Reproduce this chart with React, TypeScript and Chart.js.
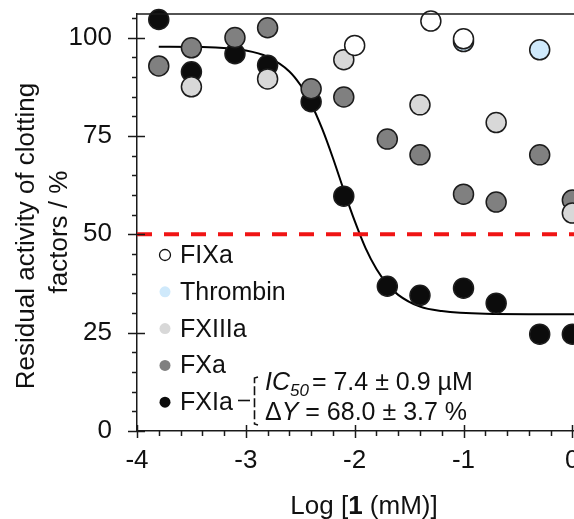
import React, { useEffect, useRef } from 'react';
import { Chart, registerables } from 'chart.js';

Chart.register(...registerables);

// ---- data ----
const X_TICKS = [-4, -3, -2, -1, 0];
const Y_TICKS = [0, 25, 50, 75, 100];

const FIXA_X = [-2.0, -1.3, -1.0];
const FIXA_Y = [98.0, 104.2, 99.7];

const THROMBIN_X = [-1.0, -0.3];
const THROMBIN_Y = [99.0, 96.9];

const FXIIIA_X = [-3.5, -2.8, -2.1, -1.4, -0.7, 0];
const FXIIIA_Y = [87.5, 89.5, 94.4, 82.9, 78.4, 55.4];

const FXA_X = [-3.8, -3.5, -3.1, -2.8, -2.4, -2.1, -1.7, -1.4, -1.0, -0.7, -0.3, 0];
const FXA_Y = [92.8, 97.4, 100.0, 102.5, 87.0, 84.9, 74.2, 70.2, 60.2, 58.2, 70.2, 58.7];

const FXIA_X = [-3.8, -3.5, -3.1, -2.8, -2.4, -2.1, -1.7, -1.4, -1.0, -0.7, -0.3, 0];
const FXIA_Y = [104.6, 91.3, 95.9, 93.0, 83.7, 59.7, 36.8, 34.5, 36.3, 32.5, 24.6, 24.6];

// fitted FXIa curve
const CURVE_X = [-3.8, -3.4, -3.0, -2.8, -2.6, -2.5, -2.4, -2.3, -2.2, -2.1, -2.0, -1.9, -1.8, -1.7, -1.6, -1.4, -1.2, -0.8, -0.4, 0, 0.3];
const CURVE_Y = [97.7, 97.6, 96.7, 95.1, 91.4, 88.0, 83.2, 76.9, 69.4, 61.2, 53.4, 46.5, 41.2, 37.3, 34.6, 31.6, 30.5, 29.8, 29.7, 29.7, 29.7];

const THRESHOLD_X = [-4, 0.3];
const THRESHOLD_Y = [50, 50];

const SERIES_LABELS = ['FIXa', 'Thrombin', 'FXIIIa', 'FXa', 'FXIa'];
const Y_TITLE = ['Residual activity of clotting', 'factors / %'];
const IC50_TEXT = '= 7.4 ± 0.9 µM';
const DY_TEXT = ' = 68.0 ± 3.7 %';

const FONT = '"Liberation Sans", Arial, sans-serif';

const zip = (xs: number[], ys: number[]) => xs.map((x, i) => ({ x, y: ys[i] }));

const pointDs = (label: string, xs: number[], ys: number[], fill: string) => ({
  type: 'scatter' as const,
  label,
  data: zip(xs, ys),
  pointRadius: 10,
  pointHoverRadius: 10,
  pointBackgroundColor: fill,
  pointBorderColor: '#1c1c1c',
  pointBorderWidth: 1.5,
  backgroundColor: fill,
  borderColor: '#1c1c1c',
  showLine: false,
  clip: false as any,
  order: 0,
});

const decorPlugin = {
  id: 'decor',
  afterDraw(chart: any) {
    const ctx: CanvasRenderingContext2D = chart.ctx;
    const xs = chart.scales.x;
    const ys = chart.scales.y;
    const a = chart.chartArea;
    ctx.save();
    ctx.strokeStyle = '#1a1a1a';
    ctx.lineWidth = 1.5;
    // top frame line
    ctx.beginPath();
    ctx.moveTo(a.left, a.top);
    ctx.lineTo(a.right, a.top);
    ctx.stroke();
    // y ticks
    for (let v = 0; v <= ys.max + 0.001; v += 5) {
      const py = Math.round(ys.getPixelForValue(v)) + 0.5;
      const major = Y_TICKS.includes(v);
      ctx.beginPath();
      ctx.moveTo(a.left - (major ? 9 : 5), py);
      ctx.lineTo(a.left + (major ? 8 : 0), py);
      ctx.stroke();
    }
    // x ticks
    for (let i = 0; i <= 21; i++) {
      const v = -4 + i * 0.2;
      if (v > xs.max) break;
      const px = Math.round(xs.getPixelForValue(v)) + 0.5;
      const major = i % 5 === 0;
      ctx.beginPath();
      ctx.moveTo(px, a.bottom - (major ? 6 : 0));
      ctx.lineTo(px, a.bottom + (major ? 7 : 5));
      ctx.stroke();
    }

    ctx.fillStyle = '#111';
    // y title
    ctx.font = `26px ${FONT}`;
    ctx.textAlign = 'center';
    ctx.textBaseline = 'middle';
    const yCenters = [236, 232];
    const xCenters = [27, 60];
    Y_TITLE.forEach((t, i) => {
      ctx.save();
      ctx.translate(xCenters[i], yCenters[i]);
      ctx.rotate(-Math.PI / 2);
      ctx.fillText(t, 0, 0);
      ctx.restore();
    });

    // x title with bold "1"
    ctx.textAlign = 'left';
    ctx.textBaseline = 'alphabetic';
    const parts: [string, string][] = [
      ['Log [', `26px ${FONT}`],
      ['1', `bold 26px ${FONT}`],
      [' (mM)]', `26px ${FONT}`],
    ];
    let total = 0;
    parts.forEach(([t, f]) => { ctx.font = f; total += ctx.measureText(t).width; });
    let cx = 364 - total / 2;
    parts.forEach(([t, f]) => { ctx.font = f; ctx.fillText(t, cx, 514); cx += ctx.measureText(t).width; });

    // legend
    const dsets = chart.data.datasets;
    ctx.font = `25px ${FONT}`;
    SERIES_LABELS.forEach((lab, i) => {
      const base = 263 + i * 36.8;
      const ds = dsets.find((d: any) => d.label === lab);
      ctx.beginPath();
      ctx.arc(165, base - 8, 5.5, 0, Math.PI * 2);
      ctx.fillStyle = ds.pointBackgroundColor;
      ctx.fill();
      if (lab === 'FIXa') {
        ctx.lineWidth = 1.3;
        ctx.strokeStyle = '#111';
        ctx.stroke();
      }
      ctx.fillStyle = '#111';
      ctx.fillText(lab, 180, base);
    });

    // annotation: dash + bracket
    ctx.strokeStyle = '#111';
    ctx.lineWidth = 1.6;
    ctx.beginPath();
    ctx.moveTo(238, 400.5);
    ctx.lineTo(250, 400.5);
    ctx.stroke();
    ctx.setLineDash([9, 3]);
    ctx.beginPath();
    ctx.moveTo(258, 377);
    ctx.lineTo(254.5, 378);
    ctx.lineTo(254.5, 424);
    ctx.lineTo(258, 425);
    ctx.stroke();
    ctx.setLineDash([]);

    // IC50 line
    let tx = 265;
    ctx.font = `italic 25px ${FONT}`;
    ctx.fillText('IC', tx, 390);
    tx += ctx.measureText('IC').width;
    ctx.font = `italic 17px ${FONT}`;
    ctx.fillText('50', tx, 396);
    tx += ctx.measureText('50').width + 3;
    ctx.font = `25px ${FONT}`;
    ctx.fillText(IC50_TEXT, tx, 390);

    // delta Y line
    tx = 265;
    ctx.font = `25px ${FONT}`;
    ctx.fillText('Δ', tx, 420);
    tx += ctx.measureText('Δ').width;
    ctx.font = `italic 25px ${FONT}`;
    ctx.fillText('Y', tx, 420);
    tx += ctx.measureText('Y').width;
    ctx.font = `25px ${FONT}`;
    ctx.fillText(DY_TEXT, tx, 420);

    ctx.restore();
  },
};

export default function App() {
  const ref = useRef<HTMLCanvasElement | null>(null);

  useEffect(() => {
    if (!ref.current) return;
    const tickFont = { family: FONT, size: 26 };
    const chart = new Chart(ref.current, {
      type: 'scatter',
      data: {
        datasets: [
          pointDs('FIXa', FIXA_X, FIXA_Y, '#ffffff'),
          pointDs('Thrombin', THROMBIN_X, THROMBIN_Y, '#cfe9fb'),
          pointDs('FXIIIa', FXIIIA_X, FXIIIA_Y, '#d8d8d8'),
          pointDs('FXa', FXA_X, FXA_Y, '#808080'),
          pointDs('FXIa', FXIA_X, FXIA_Y, '#0c0c0c'),
          {
            type: 'scatter',
            label: 'threshold',
            data: zip(THRESHOLD_X, THRESHOLD_Y),
            showLine: true,
            borderColor: '#f01414',
            borderWidth: 4,
            borderDash: [15, 12],
            pointRadius: 0,
            order: 1,
          } as any,
          {
            type: 'scatter',
            label: 'fit',
            data: zip(CURVE_X, CURVE_Y),
            showLine: true,
            borderColor: '#000',
            borderWidth: 2,
            pointRadius: 0,
            cubicInterpolationMode: 'monotone',
            order: 2,
          } as any,
        ],
      },
      options: {
        responsive: false,
        animation: false,
        layout: { padding: { top: 14, right: 15, left: 0, bottom: 0 } },
        plugins: { legend: { display: false }, tooltip: { enabled: false } },
        scales: {
          x: {
            type: 'linear',
            min: -4,
            max: 0.3,
            afterBuildTicks: (s: any) => { s.ticks = X_TICKS.map((v) => ({ value: v })); },
            afterFit: (s: any) => { s.height = 88; s.paddingLeft = 0; s.paddingRight = 0; },
            grid: { display: false, drawTicks: false },
            border: { display: true, color: '#1a1a1a', width: 1.5 },
            ticks: { font: tickFont, color: '#111', padding: 14, maxRotation: 0, callback: (v: any) => String(v) },
          },
          y: {
            type: 'linear',
            min: 0,
            max: 106,
            afterBuildTicks: (s: any) => { s.ticks = Y_TICKS.map((v) => ({ value: v })); },
            afterFit: (s: any) => { s.width = 137; s.paddingTop = 0; s.paddingBottom = 0; },
            grid: { display: false, drawTicks: false },
            border: { display: true, color: '#1a1a1a', width: 1.5 },
            ticks: { font: tickFont, color: '#111', padding: 25, callback: (v: any) => String(v) },
          },
        },
      },
      plugins: [decorPlugin],
    } as any);
    return () => chart.destroy();
  }, []);

  return (
    <div style={{ position: 'fixed', left: 0, top: 0, width: 574, height: 519, overflow: 'hidden', background: '#fff' }}>
      <canvas ref={ref} width={620} height={519} style={{ display: 'block', width: 620, height: 519 }} />
    </div>
  );
}
